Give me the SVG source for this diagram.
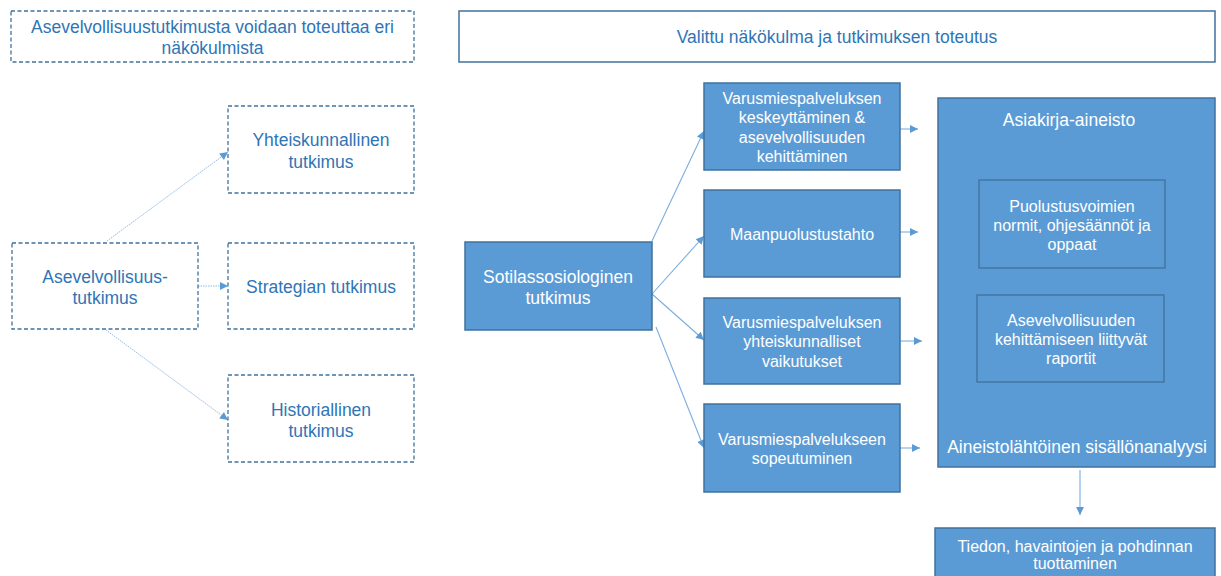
<svg xmlns="http://www.w3.org/2000/svg" width="1221" height="576" viewBox="0 0 1221 576">
<style>
  .dash{fill:#fff;stroke:#41719c;stroke-width:1.3;stroke-dasharray:4 2.5}
  .plain{fill:#fff;stroke:#41719c;stroke-width:1.5}
  .blue{fill:#5b9bd5;stroke:#41719c;stroke-width:1.5}
  .inner{fill:#5b9bd5;stroke:#41719c;stroke-width:1.3}
  text{font-family:"Liberation Sans",Arial,sans-serif;text-anchor:middle}
  .lt{fill:#2e75b6;font-size:17.5px}
  .wt{fill:#fff;font-size:16px}
  .wl{fill:#fff;font-size:17.5px}
  .dot{stroke:#8fb9e3;stroke-width:1;stroke-dasharray:1.5 1;fill:none}
  .con{stroke:#7aaee0;stroke-width:1.1;fill:none}
</style>
<defs>
  <marker id="ah" viewBox="0 0 10 10" refX="10" refY="5" markerWidth="9" markerHeight="8" markerUnits="userSpaceOnUse" orient="auto">
    <path d="M0,0 L10,5 L0,10 z" fill="#5b9bd5"/>
  </marker>
</defs>
<rect width="1221" height="576" fill="#fff"/>

<g id="connectors">
  <line class="dot" x1="107" y1="241" x2="228" y2="152" marker-end="url(#ah)"/>
  <line class="dot" x1="198" y1="286" x2="228" y2="286" marker-end="url(#ah)"/>
  <line class="dot" x1="106" y1="330" x2="228" y2="420" marker-end="url(#ah)"/>
  <line class="con" x1="652" y1="241" x2="704" y2="131" marker-end="url(#ah)"/>
  <line class="con" x1="652" y1="294" x2="704" y2="236" marker-end="url(#ah)"/>
  <line class="con" x1="652" y1="294" x2="704" y2="340" marker-end="url(#ah)"/>
  <line class="con" x1="656" y1="327" x2="704" y2="448" marker-end="url(#ah)"/>
  <line class="con" x1="900" y1="129" x2="918" y2="129" marker-end="url(#ah)"/>
  <line class="con" x1="900" y1="232" x2="918" y2="232" marker-end="url(#ah)"/>
  <line class="con" x1="900" y1="341" x2="922" y2="341" marker-end="url(#ah)"/>
  <line class="con" x1="900" y1="448" x2="920" y2="448" marker-end="url(#ah)"/>
  <line class="con" x1="1080" y1="470" x2="1080" y2="515" marker-end="url(#ah)"/>
</g>

<g id="title-left">
  <rect class="dash" x="11" y="11" width="403" height="51"/>
  <text class="lt" x="212.5" y="33">Asevelvollisuustutkimusta voidaan toteuttaa eri</text>
  <text class="lt" x="212.5" y="54">näkökulmista</text>
</g>
<g id="yhteiskunnallinen">
  <rect class="dash" x="228" y="106" width="186" height="87"/>
  <text class="lt" x="321" y="146">Yhteiskunnallinen</text>
  <text class="lt" x="321" y="168">tutkimus</text>
</g>
<g id="asevelvollisuus">
  <rect class="dash" x="12" y="243" width="186" height="86"/>
  <text class="lt" x="105" y="283">Asevelvollisuus-</text>
  <text class="lt" x="105" y="304">tutkimus</text>
</g>
<g id="strategian">
  <rect class="dash" x="228" y="243" width="186" height="86"/>
  <text class="lt" x="321" y="293">Strategian tutkimus</text>
</g>
<g id="historiallinen">
  <rect class="dash" x="228" y="375" width="186" height="87"/>
  <text class="lt" x="321" y="416">Historiallinen</text>
  <text class="lt" x="321" y="437">tutkimus</text>
</g>

<g id="title-right">
  <rect class="plain" x="459" y="11" width="756" height="51"/>
  <text class="lt" x="837" y="43">Valittu näkökulma ja tutkimuksen toteutus</text>
</g>
<g id="sotilassosiologinen">
  <rect class="blue" x="465" y="242" width="187" height="88"/>
  <text class="wl" x="558" y="283">Sotilassosiologinen</text>
  <text class="wl" x="558" y="304">tutkimus</text>
</g>
<g id="keskeyttaminen">
  <rect class="blue" x="704" y="83" width="196" height="87"/>
  <text class="wt" x="802" y="104">Varusmiespalveluksen</text>
  <text class="wt" x="802" y="123">keskeyttäminen &amp;</text>
  <text class="wt" x="802" y="143">asevelvollisuuden</text>
  <text class="wt" x="802" y="162">kehittäminen</text>
</g>
<g id="maanpuolustustahto">
  <rect class="blue" x="704" y="190" width="196" height="87"/>
  <text class="wt" x="802" y="240">Maanpuolustustahto</text>
</g>
<g id="vaikutukset">
  <rect class="blue" x="704" y="298" width="196" height="86"/>
  <text class="wt" x="802" y="328">Varusmiespalveluksen</text>
  <text class="wt" x="802" y="347">yhteiskunnalliset</text>
  <text class="wt" x="802" y="367">vaikutukset</text>
</g>
<g id="sopeutuminen">
  <rect class="blue" x="704" y="404" width="196" height="88"/>
  <text class="wt" x="802" y="445">Varusmiespalvelukseen</text>
  <text class="wt" x="802" y="464">sopeutuminen</text>
</g>
<g id="asiakirja">
  <rect class="blue" x="938" y="98" width="277" height="369"/>
  <text class="wl" x="1069" y="126">Asiakirja-aineisto</text>
  <text class="wl" x="1077" y="453">Aineistolähtöinen sisällönanalyysi</text>
</g>
<g id="normit">
  <rect class="inner" x="979" y="180" width="186" height="88"/>
  <text class="wt" x="1072" y="212">Puolustusvoimien</text>
  <text class="wt" x="1072" y="231">normit, ohjesäännöt ja</text>
  <text class="wt" x="1072" y="250">oppaat</text>
</g>
<g id="raportit">
  <rect class="inner" x="977" y="295" width="187" height="87"/>
  <text class="wt" x="1071" y="326">Asevelvollisuuden</text>
  <text class="wt" x="1071" y="345">kehittämiseen liittyvät</text>
  <text class="wt" x="1071" y="364">raportit</text>
</g>
<g id="tuottaminen">
  <rect class="blue" x="935" y="528" width="280" height="60"/>
  <text class="wt" x="1075" y="552">Tiedon, havaintojen ja pohdinnan</text>
  <text class="wt" x="1075" y="569">tuottaminen</text>
</g>
</svg>
